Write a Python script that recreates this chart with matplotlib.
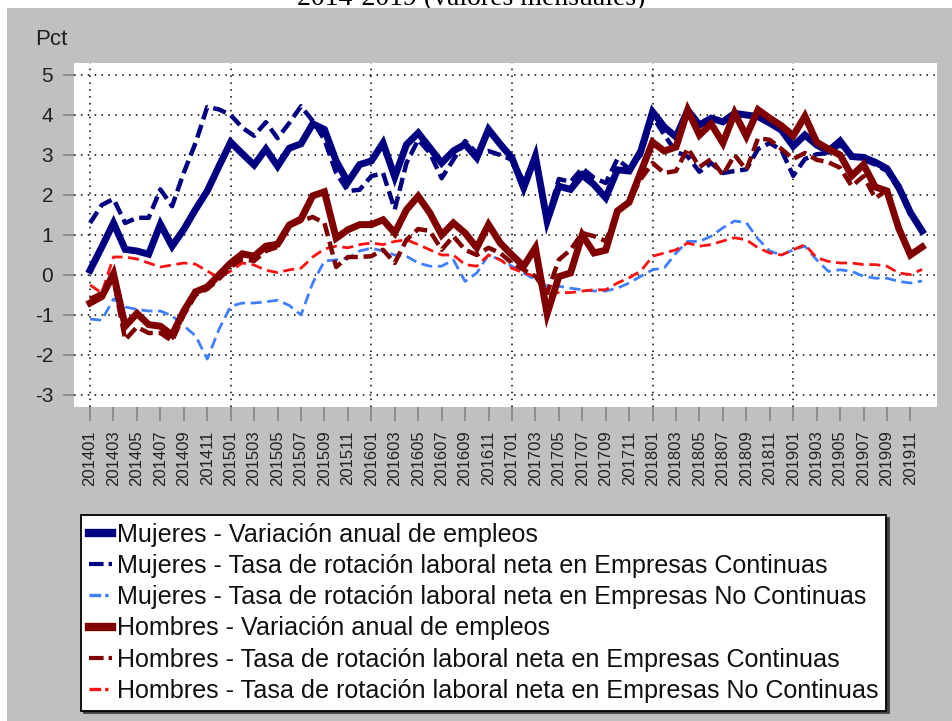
import numpy as np
import matplotlib
matplotlib.use("Agg")
import matplotlib.pyplot as plt
from matplotlib.patches import Rectangle
from matplotlib.lines import Line2D

# months 201401 .. 201912
periods = [f"{y}{m:02d}" for y in range(2014, 2020) for m in range(1, 13)]

muj_var = [0.12, 0.70, 1.30, 0.64, 0.60, 0.52, 1.27, 0.72, 1.14, 1.64, 2.10, 2.72,
           3.32, 3.03, 2.75, 3.15, 2.72, 3.17, 3.28, 3.78, 3.64, 2.85, 2.32, 2.76,
           2.85, 3.30, 2.45, 3.26, 3.55, 3.18, 2.80, 3.10, 3.27, 2.93, 3.64, 3.27,
           2.93, 2.18, 2.97, 1.35, 2.22, 2.14, 2.50, 2.26, 1.93, 2.63, 2.60, 3.10,
           4.08, 3.70, 3.45, 4.12, 3.75, 3.92, 3.83, 4.04, 4.00, 3.96, 3.80, 3.62,
           3.22, 3.50, 3.25, 3.10, 3.35, 2.96, 2.94, 2.82, 2.66, 2.20, 1.56, 1.10]

muj_cont = [1.30, 1.75, 1.90, 1.30, 1.43, 1.43, 2.14, 1.72, 2.56, 3.30, 4.20, 4.14,
            4.00, 3.68, 3.48, 3.82, 3.42, 3.80, 4.22, 3.85, 3.38, 2.55, 2.10, 2.13,
            2.47, 2.55, 1.64, 2.80, 3.38, 3.05, 2.42, 2.88, 3.35, 3.05, 3.10, 3.00,
            2.88, 2.35, 2.90, 1.40, 2.40, 2.33, 2.67, 2.43, 2.30, 2.90, 2.65, 3.00,
            3.97, 3.50, 3.08, 2.96, 2.58, 2.80, 2.55, 2.60, 2.64, 3.15, 3.30, 3.12,
            2.48, 2.90, 3.02, 3.05, 3.25, 3.00, 2.88, 2.76, 2.60, 2.13, 1.55, 1.12]

muj_nocont = [-1.10, -1.13, -0.60, -0.80, -0.86, -0.90, -0.90, -1.02, -1.27, -1.52, -2.10, -1.36,
              -0.78, -0.70, -0.70, -0.67, -0.63, -0.76, -1.00, -0.20, 0.35, 0.38, 0.42, 0.60,
              0.67, 0.60, 0.50, 0.47, 0.30, 0.22, 0.22, 0.38, -0.16, 0.05, 0.50, 0.38,
              0.22, 0.05, -0.12, -0.28, -0.28, -0.33, -0.37, -0.40, -0.40, -0.33, -0.20, -0.03,
              0.13, 0.18, 0.55, 0.84, 0.84, 0.97, 1.18, 1.35, 1.31, 0.90, 0.60, 0.50,
              0.63, 0.72, 0.38, 0.09, 0.13, 0.09, -0.03, -0.08, -0.08, -0.16, -0.20, -0.15]

hom_var = [-0.70, -0.54, 0.03, -1.28, -0.96, -1.24, -1.28, -1.50, -0.90, -0.42, -0.30, 0.00,
           0.30, 0.53, 0.47, 0.72, 0.77, 1.25, 1.40, 1.98, 2.08, 0.92, 1.13, 1.26,
           1.26, 1.38, 1.05, 1.63, 1.97, 1.55, 1.00, 1.30, 1.05, 0.68, 1.26, 0.80,
           0.50, 0.22, 0.68, -0.97, -0.04, 0.05, 1.00, 0.55, 0.62, 1.60, 1.82, 2.58,
           3.32, 3.10, 3.20, 4.12, 3.50, 3.78, 3.30, 4.05, 3.47, 4.13, 3.92, 3.73,
           3.48, 3.97, 3.32, 3.15, 3.00, 2.48, 2.76, 2.20, 2.10, 1.17, 0.50, 0.70]

hom_cont = [-0.60, -0.45, -0.10, -1.62, -1.30, -1.45, -1.45, -1.65, -1.00, -0.50, -0.35, -0.10,
            0.20, 0.40, 0.35, 0.60, 0.70, 1.22, 1.35, 1.45, 1.30, 0.20, 0.45, 0.45,
            0.47, 0.63, 0.30, 0.88, 1.15, 1.10, 0.63, 0.97, 0.63, 0.50, 0.68, 0.55,
            0.30, 0.13, -0.03, -0.45, 0.38, 0.63, 1.05, 0.97, 0.85, 1.55, 1.85, 2.40,
            2.80, 2.55, 2.60, 3.17, 2.70, 2.90, 2.50, 3.00, 2.63, 3.42, 3.38, 3.15,
            2.90, 3.05, 2.88, 2.82, 2.68, 2.22, 2.47, 1.92, 2.12, 1.20, 0.50, 0.70]

hom_nocont = [-0.25, -0.45, 0.45, 0.45, 0.40, 0.30, 0.20, 0.25, 0.30, 0.27, 0.10, -0.07,
              0.10, 0.30, 0.25, 0.12, 0.06, 0.13, 0.17, 0.45, 0.65, 0.72, 0.68, 0.76,
              0.80, 0.76, 0.84, 0.88, 0.76, 0.63, 0.50, 0.50, 0.26, 0.22, 0.50, 0.38,
              0.17, 0.05, -0.03, -0.48, -0.44, -0.44, -0.40, -0.37, -0.37, -0.20, -0.07, 0.10,
              0.47, 0.55, 0.63, 0.80, 0.72, 0.76, 0.85, 0.93, 0.88, 0.68, 0.55, 0.50,
              0.63, 0.76, 0.43, 0.34, 0.30, 0.30, 0.26, 0.26, 0.22, 0.05, 0.01, 0.14]

labels = [
    "Mujeres - Variación anual de empleos",
    "Mujeres - Tasa de rotación laboral neta en Empresas Continuas",
    "Mujeres - Tasa de rotación laboral neta en Empresas No Continuas",
    "Hombres - Variación anual de empleos",
    "Hombres - Tasa de rotación laboral neta en Empresas Continuas",
    "Hombres - Tasa de rotación laboral neta en Empresas No Continuas",
]

NAVY = "#000080"
MAROON = "#800000"
LBLUE = "#3f7fff"
RED = "#ff1010"
GRAY_BG = "#c0c0c0"

plt.rcParams["font.family"] = ["Liberation Sans", "DejaVu Sans"]

W, H = 952, 721
fig = plt.figure(figsize=(W / 100, H / 100), dpi=100, facecolor="white")

# title strip, cut off by the grey panel as in the original screenshot
fig.text(0.495, 1 - 5 / H, "2014-2019 (valores mensuales)", family="Liberation Serif",
         fontsize=20, ha="center", va="baseline", zorder=1)
fig.patches.append(Rectangle((7 / W, 0), 1 - 7 / W, 1 - 8 / H, transform=fig.transFigure,
                             facecolor=GRAY_BG, edgecolor="none", zorder=2))
fig.text(35 / W, 1 - 45 / H, "Pct", fontsize=16, color="#202020", zorder=4)

ax = fig.add_axes([74 / W, 1 - 407 / H, (937 - 74) / W, (407 - 63) / H])
ax.set_zorder(3)
ax.set_facecolor("white")
for s in ax.spines.values():
    s.set_visible(False)

x = np.arange(len(periods))

ax.plot(x, muj_nocont, color=LBLUE, lw=2.0, dashes=(4, 2))
ax.plot(x, hom_nocont, color=RED, lw=2.0, dashes=(4, 2))
ax.plot(x, muj_cont, color=NAVY, lw=3.2, dashes=(3, 1.3))
ax.plot(x, hom_cont, color=MAROON, lw=3.2, dashes=(3, 1.3))
ax.plot(x, muj_var, color=NAVY, lw=5.0, solid_joinstyle="miter")
ax.plot(x, hom_var, color=MAROON, lw=5.0, solid_joinstyle="miter")

ax.set_xlim(-1.37, 72.27)
ax.set_ylim(-3.3, 5.3)

yt = np.arange(-3, 6)
ax.set_yticks(yt)
ax.set_yticklabels([str(v) for v in yt], fontsize=15, color="#202020")
ax.set_xticks(x[::2])
ax.set_xticklabels(periods[::2], rotation=90, fontsize=12, color="#202020")
ax.tick_params(axis="y", length=8, width=1.4, color="#8c8c8c", pad=7)
ax.tick_params(axis="x", length=10, width=1.4, color="#8c8c8c", pad=7)

for v in yt:
    ax.axhline(v, color="black", lw=1.1, ls=(0, (1, 3.5)), zorder=0.5)
for i in x[::12]:
    ax.axvline(i, color="black", lw=1.1, ls=(0, (1, 3.5)), zorder=0.5)

handles = [
    Line2D([], [], color=NAVY, lw=6),
    Line2D([], [], color=NAVY, lw=3, dashes=(3.5, 1.2, 1, 1.2)),
    Line2D([], [], color=LBLUE, lw=2.4, dashes=(3.5, 1.2, 1, 1.2)),
    Line2D([], [], color=MAROON, lw=6),
    Line2D([], [], color=MAROON, lw=3, dashes=(3.5, 1.2, 1, 1.2)),
    Line2D([], [], color=RED, lw=2.4, dashes=(3.5, 1.2, 1, 1.2)),
]
leg = ax.legend(handles, labels, loc="upper left", bbox_to_anchor=(81 / W, 1 - 515 / H),
                bbox_transform=fig.transFigure, fontsize=18.1, frameon=True, fancybox=False,
                shadow={"color": "#404040", "alpha": 1.0}, borderaxespad=0,
                handlelength=0.95, handletextpad=0.2, labelspacing=0.29, borderpad=0.3)
leg.get_frame().set_edgecolor("black")
leg.get_frame().set_linewidth(1.3)
for t in leg.get_texts():
    t.set_color("#101010")

fig.savefig("out.png", dpi=100, facecolor=fig.get_facecolor())
